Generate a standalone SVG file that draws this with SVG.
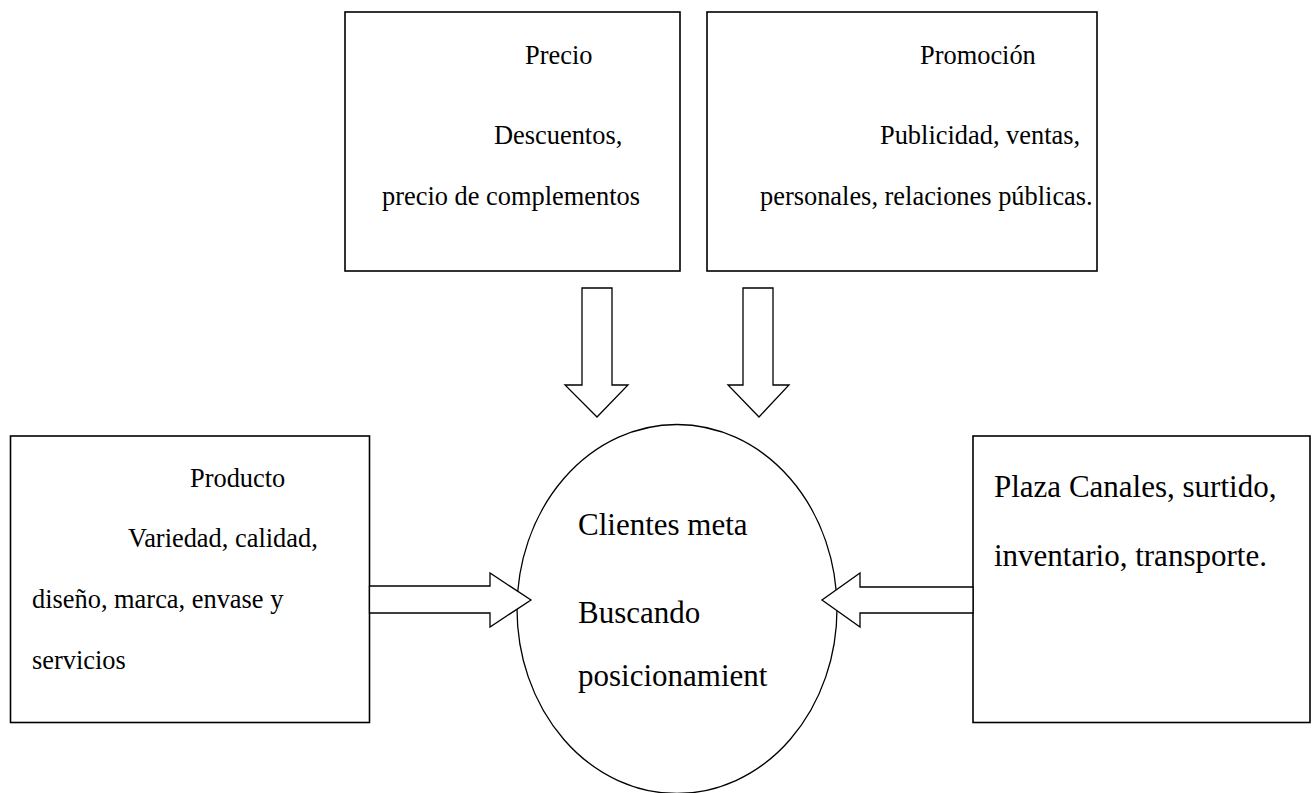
<svg xmlns="http://www.w3.org/2000/svg" width="1312" height="793" viewBox="0 0 1312 793">
<style>
.box{fill:#fff;stroke:#000;stroke-width:1.6}
.ell{fill:#fff;stroke:#000;stroke-width:1.3}
.arr{fill:#fff;stroke:#000;stroke-width:1.3;stroke-linejoin:miter}
.t{font-family:"Liberation Serif","Times New Roman",serif;font-size:26.4px;fill:#000}
.tl{font-family:"Liberation Serif","Times New Roman",serif;font-size:31px;fill:#000}
</style>
<rect width="1312" height="793" fill="#fff"/>
<g id="precio">
<rect class="box" x="345" y="12" width="335" height="259"/>
<text class="t" x="525" y="64">Precio</text>
<text class="t" x="494" y="144">Descuentos,</text>
<text class="t" x="382" y="205">precio de complementos</text>
</g>
<g id="promocion">
<rect class="box" x="707" y="12" width="390" height="259"/>
<text class="t" x="920" y="64">Promoción</text>
<text class="t" x="880" y="144">Publicidad, ventas,</text>
<text class="t" x="760" y="205">personales, relaciones públicas.</text>
</g>
<g id="producto">
<rect class="box" x="10.5" y="436" width="359" height="286.5"/>
<text class="t" x="190" y="487">Producto</text>
<text class="t" x="128" y="547">Variedad, calidad,</text>
<text class="t" x="32" y="608">diseño, marca, envase y</text>
<text class="t" x="32" y="669">servicios</text>
</g>
<g id="plaza">
<rect class="box" x="973" y="436" width="337" height="286.5"/>
<text class="tl" x="994" y="497">Plaza Canales, surtido,</text>
<text class="tl" x="994" y="566">inventario, transporte.</text>
</g>
<g id="clientes">
<ellipse class="ell" cx="677" cy="609" rx="160" ry="184.5"/>
<text class="tl" x="578" y="535">Clientes meta</text>
<text class="tl" x="578" y="623">Buscando</text>
<text class="tl" x="578" y="686">posicionamient</text>
</g>
<g id="connectors">
<polygon class="arr" points="582,288 612,288 612,385 628,385 597,417 565,385 582,385"/>
<polygon class="arr" points="743,288 773,288 773,385 789,385 759,417 728,385 743,385"/>
<polygon class="arr" points="369.5,586 490,586 490,573 531,600 490,627 490,613 369.5,613"/>
<polygon class="arr" points="973,587 860,587 860,573 822,600 860,627 860,613 973,613"/>
</g>
</svg>
